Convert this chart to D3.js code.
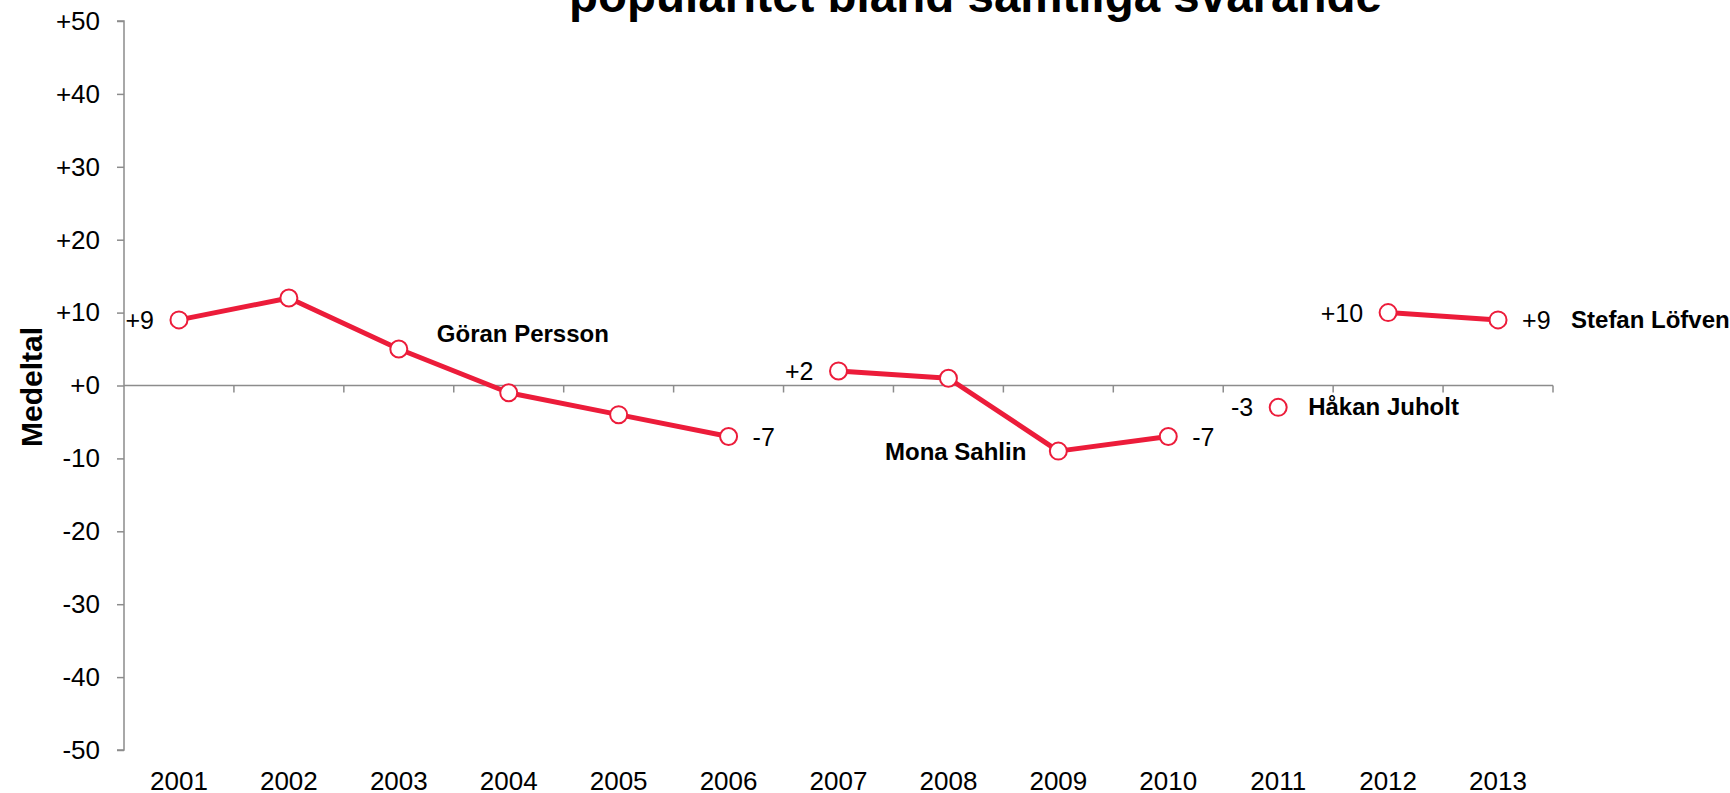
<!DOCTYPE html>
<html>
<head>
<meta charset="utf-8">
<script src="https://cdn.jsdelivr.net/npm/d3@7"></script>
<style>
  html, body { margin: 0; padding: 0; background: #fff; }
  svg { display: block; font-family: "Liberation Sans", Arial, sans-serif; }
</style>
</head>
<body>
<svg id="chart" width="1730" height="793"></svg>
<script>
// ---- data ----
const years = ["2001","2002","2003","2004","2005","2006","2007","2008","2009","2010","2011","2012","2013"];
const values = [9, 12, 5, -1, -4, -7, 2, 1, -9, -7, -3, 10, 9];
const leaders = ["Göran Persson","Göran Persson","Göran Persson","Göran Persson","Göran Persson","Göran Persson",
                 "Mona Sahlin","Mona Sahlin","Mona Sahlin","Mona Sahlin",
                 "Håkan Juholt",
                 "Stefan Löfven","Stefan Löfven"];
const yTicks = [50, 40, 30, 20, 10, 0, -10, -20, -30, -40, -50];
const titleText = "popularitet bland samtliga svarande";
const yTitle = "Medeltal";
// value labels: [year, text, side]
const valueLabels = [
  ["2001", "+9", "left"], ["2006", "-7", "right"], ["2007", "+2", "left"],
  ["2010", "-7", "right"], ["2011", "-3", "left"], ["2012", "+10", "left"], ["2013", "+9", "right"]
];
// leader name labels: [name, anchor year, side]
const nameLabels = [
  ["Göran Persson", "2003", "rightUp"], ["Mona Sahlin", "2009", "leftDown"],
  ["Håkan Juholt", "2011", "right"], ["Stefan Löfven", "2013", "farRight"]
];

const svg = d3.select("#chart");
const red = "#EC1C3A";
const gray = "#8c8c8c";

const x = d3.scaleBand().domain(years).range([124, 1553]);
const y = d3.scaleLinear().domain([-50, 50]).range([750, 21]);
const cx = yr => x(yr) + x.bandwidth() / 2;
const valOf = yr => values[years.indexOf(yr)];

// title
svg.append("text").attr("x", 975.5).attr("y", 12).attr("text-anchor", "middle")
  .attr("font-size", 47.5).attr("font-weight", "bold").attr("fill", "#000").text(titleText);

// y axis
const yAxis = d3.axisLeft(y).tickValues(yTicks).tickSize(7).tickPadding(17)
  .tickFormat(d => d >= 0 ? "+" + d : String(d));
const gy = svg.append("g").attr("transform", "translate(124,0)").call(yAxis);
gy.select(".domain").attr("stroke", gray).attr("stroke-width", 1.5).attr("d", `M-7,${y(50)}H0V${y(-50)}H-7`);
gy.selectAll(".tick line").attr("stroke", gray).attr("stroke-width", 1.5);
gy.selectAll(".tick text").attr("font-size", 26).attr("fill", "#000").attr("font-family", "Liberation Sans, Arial, sans-serif");

// x axis at zero with ticks at band boundaries
const boundaries = years.map(d => x(d)).concat([x.range()[1]]);
const gx = svg.append("g");
gx.append("line").attr("x1", x.range()[0]).attr("x2", x.range()[1]).attr("y1", y(0)).attr("y2", y(0))
  .attr("stroke", gray).attr("stroke-width", 1.5);
gx.selectAll("line.tk").data(boundaries.slice(1)).join("line").attr("class", "tk")
  .attr("x1", d => d).attr("x2", d => d).attr("y1", y(0)).attr("y2", y(0) + 7)
  .attr("stroke", gray).attr("stroke-width", 1.5);

// year labels at bottom
svg.append("g").selectAll("text").data(years).join("text")
  .attr("x", d => cx(d)).attr("y", 790).attr("text-anchor", "middle")
  .attr("font-size", 26).attr("fill", "#000").text(d => d);

// y title
svg.append("text").attr("transform", "translate(42,387) rotate(-90)").attr("text-anchor", "middle")
  .attr("font-size", 30).attr("font-weight", "bold").attr("fill", "#000").text(yTitle);

// lines per leader
const groups = d3.groups(years.map((yr, i) => ({ yr, v: values[i], leader: leaders[i] })), d => d.leader);
const line = d3.line().x(d => cx(d.yr)).y(d => y(d.v));
svg.append("g").selectAll("path").data(groups).join("path")
  .attr("d", d => line(d[1])).attr("fill", "none").attr("stroke", red).attr("stroke-width", 5)
  .attr("stroke-linejoin", "round");

// markers
svg.append("g").selectAll("circle").data(years).join("circle")
  .attr("cx", d => cx(d)).attr("cy", d => y(valOf(d))).attr("r", 8.5)
  .attr("fill", "#fff").attr("stroke", red).attr("stroke-width", 2);

// value labels
svg.append("g").selectAll("text").data(valueLabels).join("text")
  .attr("x", d => d[2] === "left" ? cx(d[0]) - 25 : cx(d[0]) + 24)
  .attr("y", d => y(valOf(d[0])) + 9)
  .attr("text-anchor", d => d[2] === "left" ? "end" : "start")
  .attr("font-size", 25).attr("fill", "#000").text(d => d[1]);

// leader name labels
const namePos = {
  rightUp:  (yr) => ({ x: cx(yr) + 38, y: y(valOf(yr)) - 7, anchor: "start" }),
  leftDown: (yr) => ({ x: cx(yr) - 32, y: y(valOf(yr)) + 9, anchor: "end" }),
  right:    (yr) => ({ x: cx(yr) + 30, y: y(valOf(yr)) + 8, anchor: "start" }),
  farRight: (yr) => ({ x: cx(yr) + 73, y: y(valOf(yr)) + 8, anchor: "start" })
};
svg.append("g").selectAll("text").data(nameLabels).join("text")
  .each(function(d) {
    const p = namePos[d[2]](d[1]);
    d3.select(this).attr("x", p.x).attr("y", p.y).attr("text-anchor", p.anchor);
  })
  .attr("font-size", 24).attr("font-weight", "bold").attr("fill", "#000").text(d => d[0]);
</script>
</body>
</html>
